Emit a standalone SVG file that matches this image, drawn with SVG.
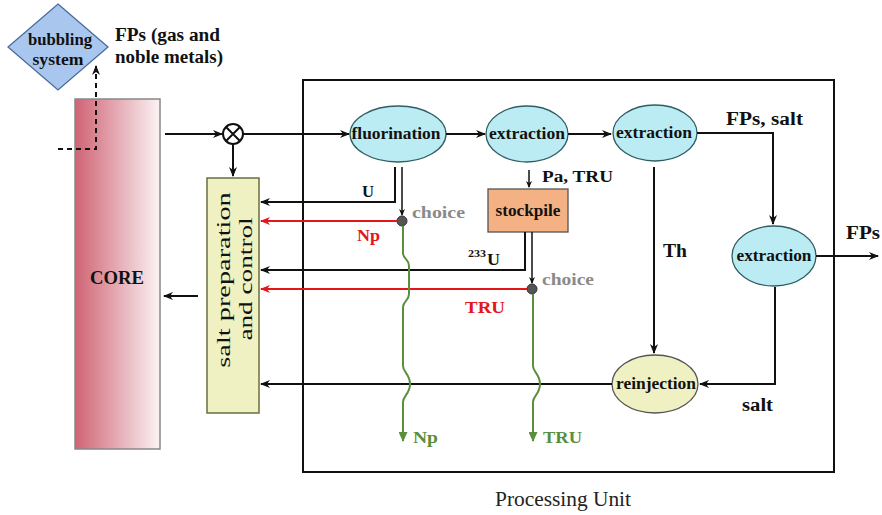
<svg xmlns="http://www.w3.org/2000/svg" width="882" height="515" viewBox="0 0 882 515" font-family="'Liberation Serif', 'DejaVu Serif', serif">
<defs>
<linearGradient id="coreGrad" x1="0" y1="0" x2="1" y2="0">
<stop offset="0" stop-color="#cf6374"/>
<stop offset="1" stop-color="#fbf3f5"/>
</linearGradient>
<marker id="ab" markerWidth="10" markerHeight="8" refX="9" refY="4" orient="auto" markerUnits="userSpaceOnUse">
<path d="M0,0 L10,4 L0,8 L3,4 Z" fill="#111"/>
</marker>
<marker id="ar" markerWidth="10" markerHeight="8" refX="9" refY="4" orient="auto" markerUnits="userSpaceOnUse">
<path d="M0,0 L10,4 L0,8 L3,4 Z" fill="#e3161b"/>
</marker>
<marker id="ag" markerWidth="10" markerHeight="9" refX="9" refY="4.5" orient="auto" markerUnits="userSpaceOnUse">
<path d="M0,0 L10,4.5 L0,9 Z" fill="#5a8f3c"/>
</marker>
<marker id="as" markerWidth="7" markerHeight="6" refX="6" refY="3" orient="auto" markerUnits="userSpaceOnUse">
<path d="M0,0 L7,3 L0,6 L2,3 Z" fill="#111"/>
</marker>
</defs>
<style>
text{font-family:"Liberation Serif","DejaVu Serif",serif;}
.b{font-weight:bold;font-size:17px;fill:#111;}
.lbl{font-weight:bold;font-size:18px;fill:#111;}
.node{font-weight:bold;font-size:16px;fill:#111;}
.ell{fill:#bcecf3;stroke:#2f5d63;stroke-width:1.3;}
.k{stroke:#111;stroke-width:2;fill:none;}
.r{stroke:#e3161b;stroke-width:2;fill:none;}
.g{stroke:#5a8f3c;stroke-width:2;fill:none;}
.choice{font-weight:bold;font-size:17px;fill:#8a8a8a;}
</style>
<rect width="882" height="515" fill="#fff"/>

<g id="processing-unit">
<rect x="303" y="80" width="531" height="392" fill="none" stroke="#111" stroke-width="2"/>
<text x="563" y="506" text-anchor="middle" font-size="21" fill="#222" textLength="136" lengthAdjust="spacingAndGlyphs">Processing Unit</text>
</g>

<g id="core">
<rect x="75" y="99" width="85" height="350" fill="url(#coreGrad)" stroke="#888" stroke-width="1.5"/>
<text x="117" y="284" text-anchor="middle" class="lbl" textLength="54" lengthAdjust="spacingAndGlyphs">CORE</text>
</g>

<g id="bubbling">
<polygon points="58,4 108,47 58,90 8,47" fill="#a9c7ee" stroke="#4a6aa0" stroke-width="1.3"/>
<text x="60" y="45" text-anchor="middle" class="node" textLength="64" lengthAdjust="spacingAndGlyphs">bubbling</text>
<text x="58" y="65" text-anchor="middle" class="node" textLength="51" lengthAdjust="spacingAndGlyphs">system</text>
</g>
<g id="fp-gas-label">
<text x="115" y="41" class="lbl" textLength="105" lengthAdjust="spacingAndGlyphs">FPs (gas and</text>
<text x="115" y="63" class="lbl" textLength="108" lengthAdjust="spacingAndGlyphs">noble metals)</text>
</g>

<g id="mixer">
<circle cx="233" cy="134" r="10" fill="#fff" stroke="#111" stroke-width="2"/>
<path d="M226,127 L240,141 M240,127 L226,141" stroke="#111" stroke-width="2"/>
</g>

<g id="salt-prep">
<rect x="207" y="178" width="52" height="235" fill="#eff1c3" stroke="#6d6d3d" stroke-width="1.5"/>
<text transform="translate(230,280) rotate(-90) scale(1.45,1)" text-anchor="middle" font-size="19" fill="#111" textLength="121" lengthAdjust="spacingAndGlyphs">salt preparation</text>
<text transform="translate(252,279) rotate(-90) scale(1.45,1)" text-anchor="middle" font-size="19" fill="#111" textLength="85" lengthAdjust="spacingAndGlyphs">and control</text>
</g>

<g id="fluorination">
<ellipse cx="398" cy="134" rx="48" ry="28" class="ell"/>
<text x="396" y="139" text-anchor="middle" class="node" textLength="89" lengthAdjust="spacingAndGlyphs">fluorination</text>
</g>
<g id="extraction1">
<ellipse cx="527" cy="134" rx="41" ry="28" class="ell"/>
<text x="527" y="139" text-anchor="middle" class="node" textLength="76" lengthAdjust="spacingAndGlyphs">extraction</text>
</g>
<g id="extraction2">
<ellipse cx="655" cy="133" rx="42" ry="28" class="ell"/>
<text x="654" y="138" text-anchor="middle" class="node" textLength="76" lengthAdjust="spacingAndGlyphs">extraction</text>
</g>
<g id="extraction3">
<ellipse cx="774" cy="256" rx="42" ry="30" class="ell"/>
<text x="774" y="261" text-anchor="middle" class="node" textLength="75" lengthAdjust="spacingAndGlyphs">extraction</text>
</g>
<g id="reinjection">
<ellipse cx="655" cy="384" rx="43" ry="29" fill="#eff1c3" stroke="#555" stroke-width="1.3"/>
<text x="656" y="389" text-anchor="middle" class="node" textLength="80" lengthAdjust="spacingAndGlyphs">reinjection</text>
</g>
<g id="stockpile">
<rect x="488" y="189" width="80" height="43" fill="#f4b183" stroke="#555" stroke-width="1.3"/>
<text x="528" y="216" text-anchor="middle" class="node" textLength="65" lengthAdjust="spacingAndGlyphs">stockpile</text>
</g>

<g id="choice1">
<circle cx="402" cy="221" r="5" fill="#555" stroke="#333" stroke-width="1"/>
<text x="412" y="218" class="choice" textLength="53" lengthAdjust="spacingAndGlyphs">choice</text>
</g>
<g id="choice2">
<circle cx="532" cy="289" r="5" fill="#555" stroke="#333" stroke-width="1"/>
<text x="542" y="285" class="choice" textLength="52" lengthAdjust="spacingAndGlyphs">choice</text>
</g>

<g id="connectors">
<path d="M58,149 L96,149 L96,66" class="k" stroke-dasharray="5,4" marker-end="url(#ab)"/>
<line x1="165" y1="134" x2="222" y2="134" class="k" marker-end="url(#ab)"/>
<line x1="243" y1="134" x2="349" y2="134" class="k" marker-end="url(#ab)"/>
<line x1="233" y1="144" x2="233" y2="176" class="k" marker-end="url(#ab)"/>
<line x1="198" y1="296" x2="164" y2="296" class="k" marker-end="url(#ab)"/>
<line x1="446" y1="134" x2="485" y2="134" class="k" marker-end="url(#ab)"/>
<line x1="568" y1="134" x2="611" y2="134" class="k" marker-end="url(#ab)"/>
<path d="M697,133 L773,133 L773,224" class="k" marker-end="url(#ab)"/>
<line x1="816" y1="256" x2="878" y2="256" class="k" marker-end="url(#ab)"/>
<line x1="654" y1="167" x2="654" y2="353" class="k" marker-end="url(#ab)"/>
<path d="M775,287 L775,384 L700,384" class="k" marker-end="url(#ab)"/>
<line x1="612" y1="384" x2="261" y2="384" class="k" marker-end="url(#ab)"/>
<path d="M395,167 L395,202 L261,202" class="k" marker-end="url(#ab)"/>
<line x1="402" y1="167" x2="402" y2="215" stroke="#111" stroke-width="1.5" marker-end="url(#as)"/>
<line x1="397" y1="221" x2="261" y2="221" class="r" marker-end="url(#ar)"/>
<line x1="529" y1="170" x2="529" y2="187" stroke="#111" stroke-width="1.5" marker-end="url(#as)"/>
<path d="M525,232 L525,270 L261,270" class="k" marker-end="url(#ab)"/>
<line x1="532" y1="232" x2="532" y2="283" stroke="#111" stroke-width="1.5" marker-end="url(#as)"/>
<line x1="527" y1="289" x2="261" y2="289" class="r" marker-end="url(#ar)"/>
<path d="M403,226 L403,253 C403,259 409,259 409,266 L409,294 C409,301 403,301 403,307 L403,366 C403,372 410,374 410,384 C410,394 403,396 403,402 L403,441" class="g" marker-end="url(#ag)"/>
<path d="M533,294 L533,366 C533,372 540,374 540,384 C540,394 533,396 533,402 L533,441" class="g" marker-end="url(#ag)"/>
</g>

<g id="labels">
<text x="362" y="197" class="b" textLength="12" lengthAdjust="spacingAndGlyphs">U</text>
<text x="357" y="241" class="b" style="fill:#e3161b" textLength="23" lengthAdjust="spacingAndGlyphs">Np</text>
<text x="542" y="182" class="b" textLength="71" lengthAdjust="spacingAndGlyphs">Pa, TRU</text>
<text x="468" y="257" font-size="11" font-weight="bold" fill="#111" textLength="18" lengthAdjust="spacingAndGlyphs">233</text>
<text x="487" y="265" class="b" textLength="13" lengthAdjust="spacingAndGlyphs">U</text>
<text x="465" y="313" class="b" style="fill:#e3161b" textLength="40" lengthAdjust="spacingAndGlyphs">TRU</text>
<text x="726" y="125" class="lbl" textLength="77" lengthAdjust="spacingAndGlyphs">FPs, salt</text>
<text x="846" y="239" class="lbl" textLength="34" lengthAdjust="spacingAndGlyphs">FPs</text>
<text x="663" y="257" class="lbl" textLength="24" lengthAdjust="spacingAndGlyphs">Th</text>
<text x="742" y="411" class="lbl" textLength="31" lengthAdjust="spacingAndGlyphs">salt</text>
<text x="413" y="443" class="b" style="fill:#5a8f3c" textLength="25" lengthAdjust="spacingAndGlyphs">Np</text>
<text x="543" y="443" class="b" style="fill:#5a8f3c" textLength="39" lengthAdjust="spacingAndGlyphs">TRU</text>
</g>
</svg>
